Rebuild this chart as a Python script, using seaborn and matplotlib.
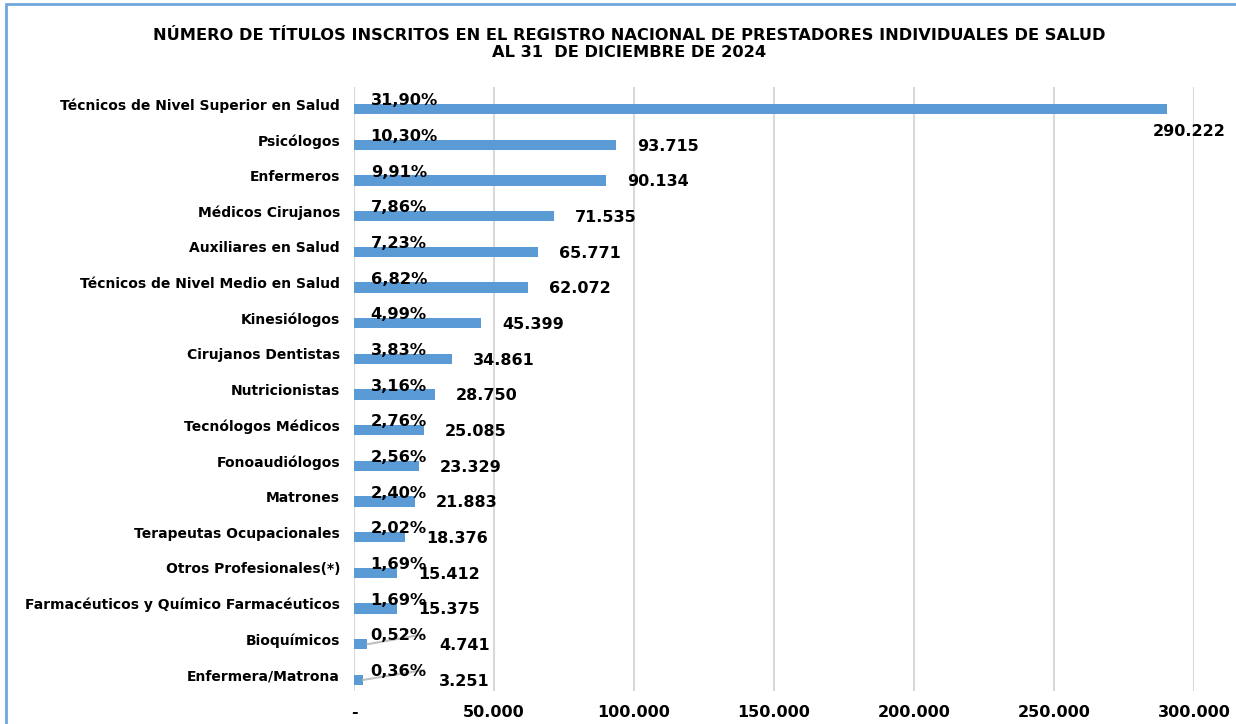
import matplotlib
matplotlib.use("Agg")
import matplotlib.pyplot as plt
import matplotlib.transforms as mtransforms
from matplotlib.patches import Rectangle
from matplotlib.ticker import FuncFormatter
import pandas as pd
import seaborn as sns

# datos del gráfico
categorias = [
    "Técnicos de Nivel Superior en Salud", "Psicólogos", "Enfermeros",
    "Médicos Cirujanos", "Auxiliares en Salud", "Técnicos de Nivel Medio en Salud",
    "Kinesiólogos", "Cirujanos Dentistas", "Nutricionistas", "Tecnólogos Médicos",
    "Fonoaudiólogos", "Matrones", "Terapeutas Ocupacionales",
    "Otros Profesionales(*)", "Farmacéuticos y Químico Farmacéuticos",
    "Bioquímicos", "Enfermera/Matrona",
]
titulos = [290222, 93715, 90134, 71535, 65771, 62072, 45399, 34861, 28750,
           25085, 23329, 21883, 18376, 15412, 15375, 4741, 3251]
porcentajes = ["31,90%", "10,30%", "9,91%", "7,86%", "7,23%", "6,82%", "4,99%",
               "3,83%", "3,16%", "2,76%", "2,56%", "2,40%", "2,02%", "1,69%",
               "1,69%", "0,52%", "0,36%"]
ticks_x = [0, 50000, 100000, 150000, 200000, 250000, 300000]

titulo = ("NÚMERO DE TÍTULOS INSCRITOS EN EL REGISTRO NACIONAL DE PRESTADORES INDIVIDUALES DE SALUD\n"
          "AL 31  DE DICIEMBRE DE 2024")

df = pd.DataFrame({"categoria": categorias, "titulos": titulos})

sns.set_style("white")
plt.rcParams["font.family"] = ["DejaVu Sans"]
plt.rcParams["text.color"] = "black"
plt.rcParams["xtick.color"] = "black"
plt.rcParams["ytick.color"] = "black"

AZUL = "#5B9BD5"

def miles(v):
    return f"{int(v):,}".replace(",", ".")

fig = plt.figure(figsize=(12.36, 7.24), dpi=100)
ax = fig.add_axes([354 / 1236, 1 - 691 / 724, 840 / 1236, (691 - 87) / 724])

sns.barplot(data=df, x="titulos", y="categoria", orient="h", color=AZUL,
            width=0.29, saturation=1, linewidth=0, ax=ax)

ax.set_xlim(0, 300000)
ax.set_ylim(16.31, -0.62)
ax.set_xticks(ticks_x)
ax.xaxis.set_major_formatter(FuncFormatter(lambda v, p: "-" if v == 0 else miles(v)))
ax.grid(axis="x", color="#D9D9D9", linewidth=1.5)
ax.set_axisbelow(True)
for s in ax.spines.values():
    s.set_visible(False)
ax.set_xlabel("")
ax.set_ylabel("")
ax.tick_params(axis="x", length=0, pad=10, labelsize=11.5)
ax.tick_params(axis="y", length=0, pad=10, labelsize=10)
for lbl in ax.get_xticklabels():
    lbl.set_fontweight("bold")
sube = mtransforms.ScaledTranslation(0, 0.05, fig.dpi_scale_trans)
for lbl in ax.get_yticklabels():
    lbl.set_fontweight("bold")
    lbl.set_transform(lbl.get_transform() + sube)

# etiquetas: porcentaje arriba-izquierda, cantidad a la derecha
for i, (v, pct) in enumerate(zip(titulos, porcentajes)):
    ax.annotate(pct, xy=(0, i), xytext=(12, 6), textcoords="offset points",
                ha="left", va="center", fontsize=11.7, fontweight="bold")
    if v > 0.9 * ax.get_xlim()[1]:
        ax.annotate(miles(v), xy=(v, i), xytext=(-10, -16), textcoords="offset points",
                    ha="left", va="center", fontsize=11.5, fontweight="bold",
                    annotation_clip=False)
    else:
        ax.annotate(miles(v), xy=(max(v, 23000 if v < 10000 else v), i),
                    xytext=(15, -1), textcoords="offset points",
                    ha="left", va="center", fontsize=11.5, fontweight="bold")
    if v < 10000:
        ax.plot([v, 25000], [i, i - 0.28], color="#BFBFBF", linewidth=1.5)

fig.text(629 / 1236, 1 - 44 / 724, titulo, ha="center", va="center",
         fontsize=11.7, fontweight="bold", linespacing=1.1)

fig.patches.append(Rectangle((6 / 1236, -0.1), 1.2, 1 - 4 / 724 + 0.1,
                             transform=fig.transFigure, fill=False,
                             edgecolor="#6FA8DC", linewidth=2))

fig.savefig("out.png", dpi=100)
